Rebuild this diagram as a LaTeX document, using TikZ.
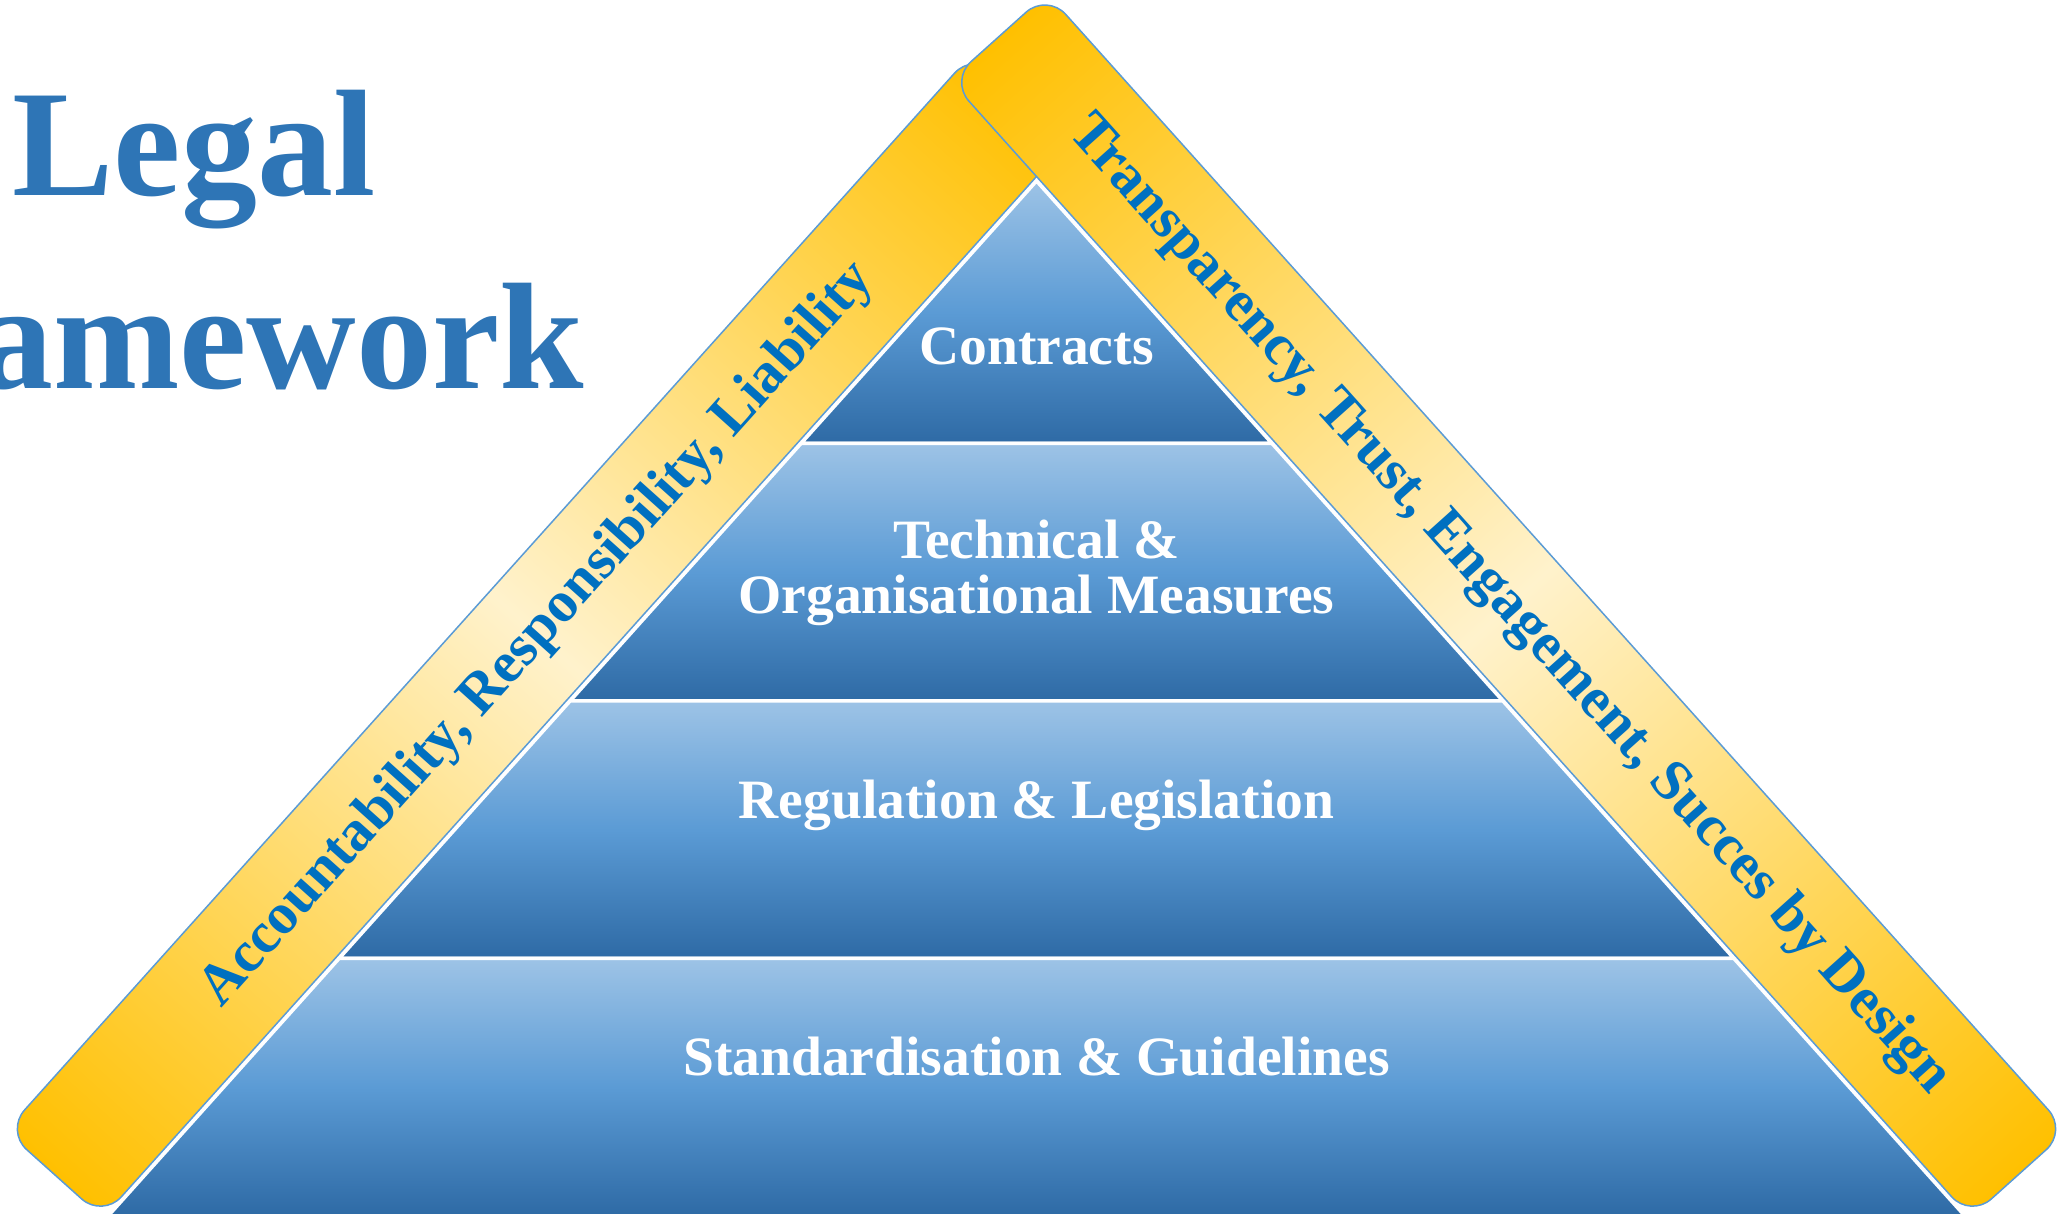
\documentclass[tikz,border=0pt]{standalone}
\usepackage{fontspec}
\setmainfont{Liberation Serif}
\definecolor{titleblue}{HTML}{2E75B6}
\definecolor{bandtext}{HTML}{0070C0}
\definecolor{bandgold}{HTML}{FFC000}
\definecolor{bandpale}{HTML}{FFF2CC}
\definecolor{bandline}{HTML}{5B9BD5}
\definecolor{laytop}{HTML}{9DC3E6}
\definecolor{laymid}{HTML}{5B9BD5}
\definecolor{laybot}{HTML}{2E6AA5}
\pgfdeclarehorizontalshading{bandshade}{100bp}{color(0bp)=(bandgold); color(25bp)=(bandgold); color(50bp)=(bandpale); color(75bp)=(bandgold); color(100bp)=(bandgold)}
\begin{document}
\begin{tikzpicture}[x=0.1mm,y=0.1mm,
  layer/.style={draw=white, line width=0.35mm, top color=laytop, bottom color=laybot, middle color=laymid},
  band/.style={draw=bandline, line width=0.15mm, shade, shading=bandshade, rounded corners=2.8mm},
  bandlabel/.style={text=bandtext, font=\fontsize{16.5pt}{19pt}\selectfont\bfseries, inner sep=0pt},
  laylabel/.style={text=white, font=\fontsize{15.8pt}{18pt}\selectfont\bfseries, inner sep=0pt, anchor=base},
  titlelabel/.style={text=titleblue, font=\fontsize{43.2pt}{50pt}\selectfont\bfseries, inner sep=0pt, anchor=base}]
\path[use as bounding box] (0,0) rectangle (2070,1214);
\clip (0,0) rectangle (2070,1214);
\coordinate (apex) at (1036.5,1033);
% pyramid layers
\path[layer] (apex) -- (1272,770.5) -- (801,770.5) -- cycle;
\path[layer] (801,770.5) -- (1272,770.5) -- (1502.9,513) -- (570.1,513) -- cycle;
\path[layer] (570.1,513) -- (1502.9,513) -- (1733.9,255.5) -- (339.1,255.5) -- cycle;
\path[layer] (339.1,255.5) -- (1733.9,255.5) -- (1964.9,-2) -- (108.1,-2) -- cycle;
% left band
\begin{scope}[transform canvas={shift={(apex)}, rotate=48.11}]
  \path[band] (-1395.4,3) rectangle (53.6,133);
  \node[bandlabel] (lefttext) at (-670.9,68) {Accountability, Responsibility, Liability};
\end{scope}
% right band
\begin{scope}[transform canvas={shift={(apex)}, rotate=-48.11}]
  \path[band] (-132.6,3) rectangle (1395.4,133);
  \node[bandlabel] (righttext) at (631.4,68) {Transparency, Trust, Engagement, Succes by Design};
\end{scope}
% layer labels
\node[laylabel] (contracts) at (1036.5,849) {Contracts};
\node[laylabel] (tech1) at (1036.5,655.7) {Technical \&};
\node[laylabel] (tech2) at (1036.5,600.7) {Organisational Measures};
\node[laylabel] (regulation) at (1036.5,395.7) {Regulation \& Legislation};
\node[laylabel] (standard) at (1036.5,138.3) {Standardisation \& Guidelines};
% title
\node[titlelabel] (legal) at (194,1018) {Legal};
\node[titlelabel, anchor=base east] (framework) at (585,825) {Framework};
\end{tikzpicture}
\end{document}
